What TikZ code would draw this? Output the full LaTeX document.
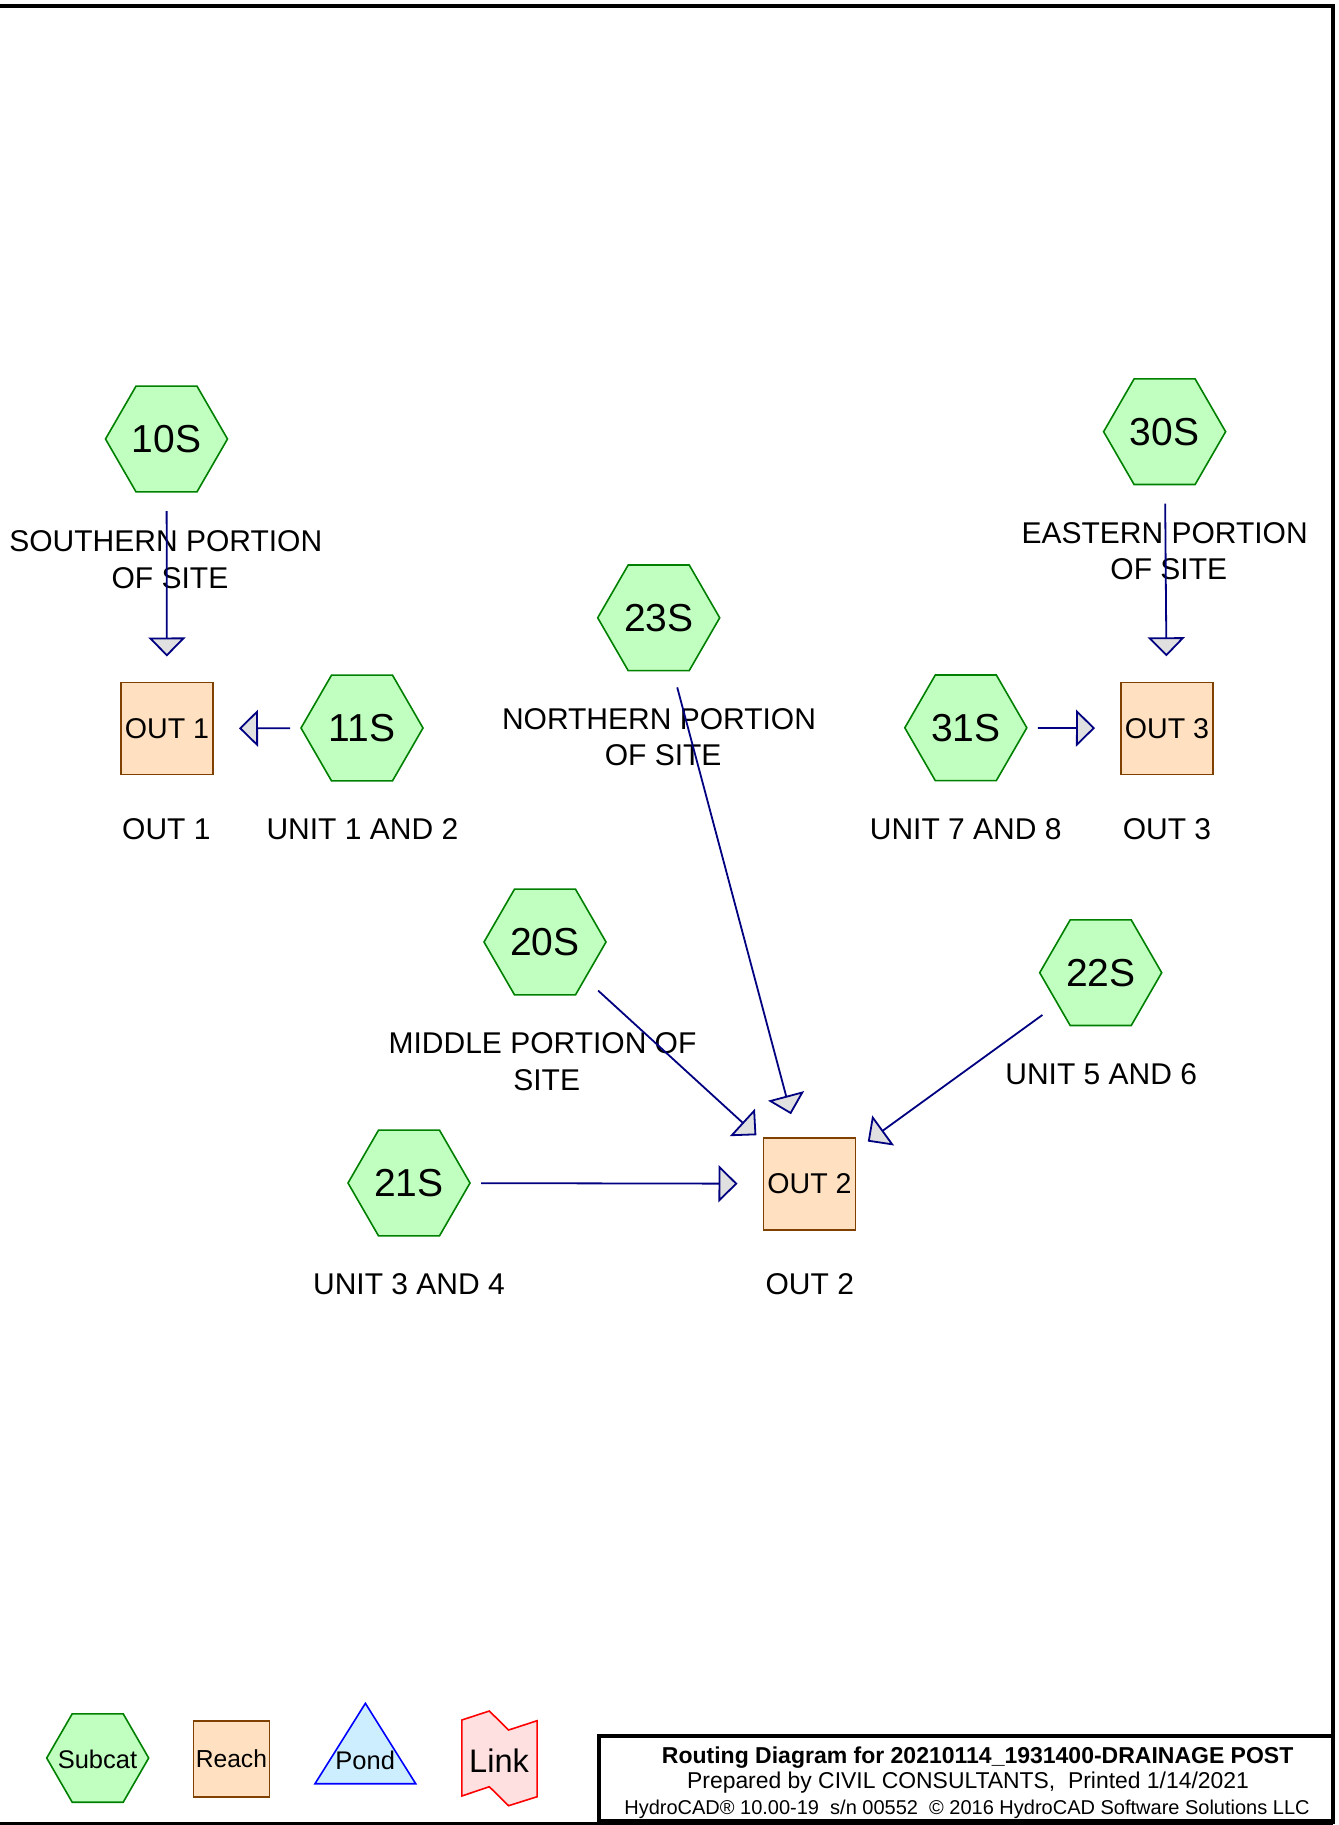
\documentclass[tikz,border=0pt]{standalone}
\usepackage{fontspec}
\setmainfont{Liberation Sans}
\usetikzlibrary{shapes.geometric,arrows.meta}
\definecolor{hexfill}{HTML}{C0FFC0}
\definecolor{hexdraw}{HTML}{008000}
\definecolor{boxfill}{HTML}{FFE0C0}
\definecolor{boxdraw}{HTML}{804000}
\definecolor{flowcol}{HTML}{000080}
\definecolor{tipfill}{HTML}{E0E0E0}
\definecolor{pondfill}{HTML}{CCEEFF}
\definecolor{ponddraw}{HTML}{0000FF}
\definecolor{linkfill}{HTML}{FFE0E0}
\definecolor{linkdraw}{HTML}{FF0000}
\begin{document}
\begin{tikzpicture}[x=0.5pt,y=-0.5pt,
  hexnode/.style={regular polygon, regular polygon sides=6, minimum size=61pt, inner sep=0pt,
    fill=hexfill, draw=hexdraw, line width=0.8pt, font=\fontsize{19.5}{23}\selectfont},
  reachnode/.style={rectangle, minimum size=46pt, inner sep=0pt, fill=boxfill, draw=boxdraw,
    line width=0.8pt, font=\fontsize{14.3}{17}\selectfont},
  lbl/.style={inner sep=0pt, align=center, font=\fontsize{15}{18.2}\selectfont},
  flow/.style={draw=flowcol, line width=0.9pt, shorten <=36pt, shorten >=36pt,
    -{Triangle[length=9.5pt,width=18.5pt,fill=tipfill]}},
  legtext/.style={inner sep=0pt, font=\fontsize{12.75}{15}\selectfont},
  titletext/.style={inner sep=0pt, anchor=base},
]
\useasboundingbox (0,0) rectangle (1338,1825);

% frame
\draw[line width=2pt] (0,6) -- (1333,6) -- (1333,1823.5);
\draw[line width=1.2pt] (0,1823.5) -- (1333,1823.5);

% subcatchments
\node[hexnode] (s10) at (166.5,439) {10S};
\node[hexnode] (s11) at (362,728) {11S};
\node[hexnode] (s23) at (658.7,617.8) {23S};
\node[hexnode] (s30) at (1164.6,431.7) {30S};
\node[hexnode] (s31) at (965.8,727.8) {31S};
\node[hexnode] (s20) at (545,942) {20S};
\node[hexnode] (s22) at (1100.7,972.7) {22S};
\node[hexnode] (s21) at (409,1183) {21S};

% reaches
\node[reachnode] (o1) at (167,728.5) {OUT 1};
\node[reachnode] (o3) at (1167,728.3) {OUT 3};
\node[reachnode] (o2) at (809.5,1183.8) {OUT 2};

% labels
\node[lbl] (l10) at (165.8,559.7) {SOUTHERN PORTION\\\hspace*{0.278em}OF SITE};
\node[lbl] (l23) at (659,737) {NORTHERN PORTION\\\hspace*{0.278em}OF SITE};
\node[lbl] (l30) at (1164.6,551) {EASTERN PORTION\\\hspace*{0.278em}OF SITE};
\node[lbl] (l20) at (542.5,1061.7) {MIDDLE PORTION OF\\\hspace*{0.278em}SITE};
\node[lbl] (l11) at (362.4,829.6) {UNIT 1 AND 2};
\node[lbl] (lo1) at (166.4,829.6) {OUT 1};
\node[lbl] (l31) at (965.7,829) {UNIT 7 AND 8};
\node[lbl] (lo3) at (1167,829) {OUT 3};
\node[lbl] (l22) at (1101.2,1074) {UNIT 5 AND 6};
\node[lbl] (l21) at (409,1284.5) {UNIT 3 AND 4};
\node[lbl] (lo2) at (809.8,1284.5) {OUT 2};

% flows
\draw[flow] (s10.center) -- (o1.center);
\draw[flow] (s11.center) -- (o1.center);
\draw[flow] (s30.center) -- (o3.center);
\draw[flow] (s31.center) -- (o3.center);
\draw[flow] (s23.center) -- (o2.center);
\draw[flow] (s20.center) -- (o2.center);
\draw[flow] (s22.center) -- (o2.center);
\draw[flow] (s21.center) -- (o2.center);

% legend
\draw[fill=hexfill, draw=hexdraw, line width=0.8pt] (46.7,1758) -- (72.2,1713.8) -- (123.2,1713.8)
  -- (148.7,1758) -- (123.2,1802.2) -- (72.2,1802.2) -- cycle;
\node[legtext] (legsub) at (97.5,1759.3) {Subcat};
\node[reachnode, minimum size=38pt, font=\fontsize{12.3}{15}\selectfont] (legreach) at (231.4,1758.7) {Reach};
\draw[fill=pondfill, draw=ponddraw, line width=0.8pt] (365.4,1703.3) -- (415.7,1783.7) -- (315,1783.7) -- cycle;
\node[legtext] (legpond) at (365.2,1760.7) {Pond};
\draw[fill=linkfill, draw=linkdraw, line width=0.8pt] (461.8,1720) -- (489.3,1711) -- (508.6,1730) -- (537.1,1720.7)
  -- (537.1,1796.7) -- (508.6,1805.7) -- (489.3,1786.7) -- (461.8,1796) -- cycle;
\node[legtext, font=\fontsize{16.3}{19}\selectfont] (leglink) at (499.1,1760.7) {Link};

% title block
\draw[line width=2pt] (599,1735.5) rectangle (1333,1821);
\node[titletext, font=\fontsize{11.5}{13}\selectfont\bfseries] (t1) at (977.7,1763.3) {Routing Diagram for 20210114\_1931400-DRAINAGE POST};
\node[titletext, font=\fontsize{11.45}{13}\selectfont] (t2) at (968,1788.3) {Prepared by CIVIL CONSULTANTS,\ \ Printed 1/14/2021};
\node[titletext, font=\fontsize{10}{12}\selectfont] (t3) at (967,1814) {HydroCAD® 10.00-19\ \ s/n 00552\ \ © 2016 HydroCAD Software Solutions LLC};
\end{tikzpicture}
\end{document}
